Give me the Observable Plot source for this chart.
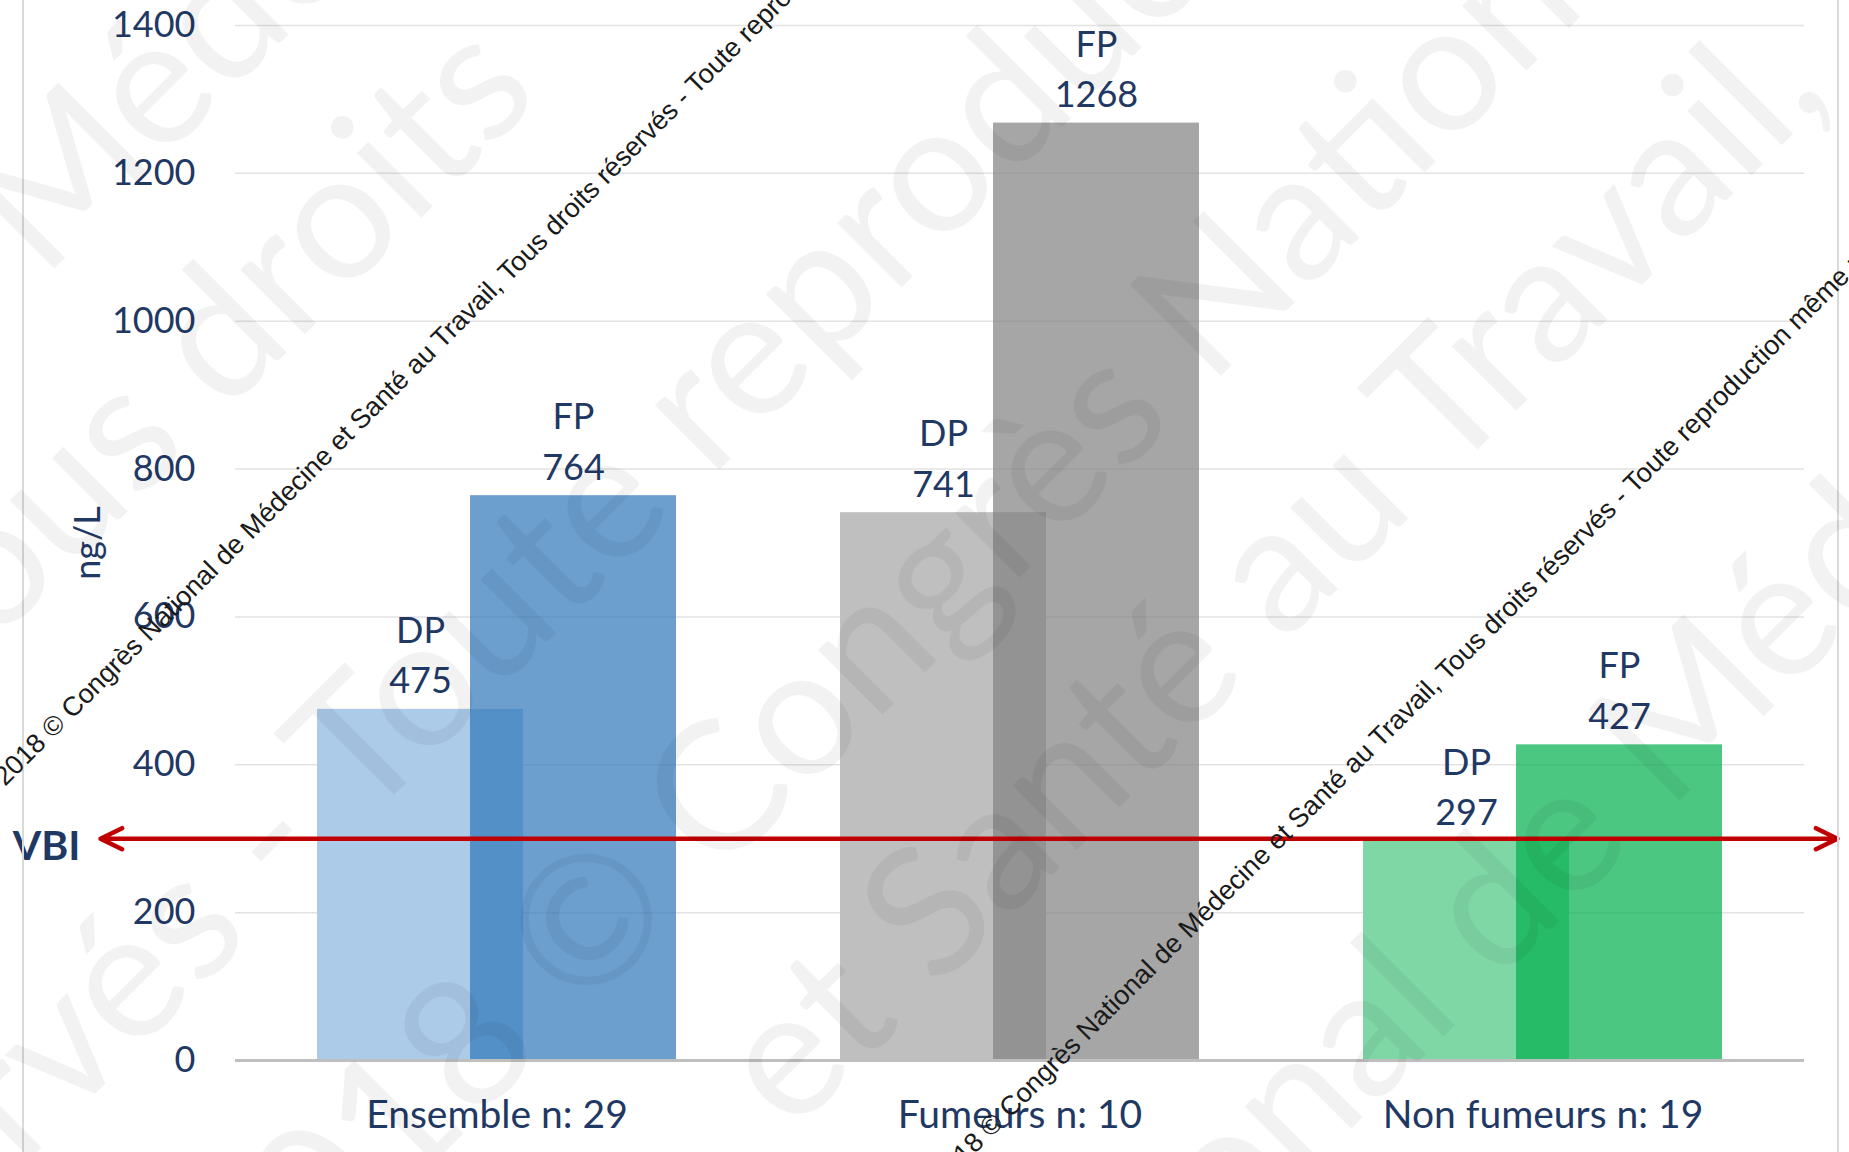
<!DOCTYPE html>
<html>
<head>
<meta charset="utf-8">
<script src="https://cdn.jsdelivr.net/npm/d3@7"></script>
<script src="https://cdn.jsdelivr.net/npm/@observablehq/plot@0.6"></script>
<style>
  html, body { margin: 0; padding: 0; background: #ffffff; overflow: hidden; }
  #chart svg { display: block; }
</style>
</head>
<body>
<div id="chart"></div>
<script>
// ---------- data ----------
const categories = ["Ensemble n: 29", "Fumeurs n: 10", "Non fumeurs n: 19"];
const seriesNames = ["DP", "FP"];
const dpValues = [475, 741, 297];
const fpValues = [764, 1268, 427];
const dpColors = ["#abcbe9", "#bfbfbf", "#7fd7a6"];
const fpColors = ["#2e76b9", "#808080", "#00af4b"];
const yTicks = [0, 200, 400, 600, 800, 1000, 1200, 1400];
const vbiValue = 300;
const vbiLabel = "VBI";
const yLabel = "ng/L";
const watermarkText = "2018 © Congrès National de Médecine et Santé au Travail, Tous droits réservés - Toute reproduction même partielle interdite";
const watermarkWords = ["Médecine", "Tous droits", "réservés - Toute reproduction", "2018 © Congrès National", "et Santé au Travail,", "National de Médecine"];

// ---------- tables ----------
const dpRows = categories.map((c, i) => ({category: c, series: seriesNames[0], value: dpValues[i], color: dpColors[i]}));
const fpRows = categories.map((c, i) => ({category: c, series: seriesNames[1], value: fpValues[i], color: fpColors[i]}));
const vbiRows = [
  {from: categories[1], to: categories[0], value: vbiValue},
  {from: categories[1], to: categories[2], value: vbiValue}
];

// ---------- layout ----------
const W = 1849, H = 1152;
const mL = 235, mR = 45, mT = 25, mB = 92;
const navy = "#1f3864";
const font = "Lato, 'Open Sans', sans-serif";

const plot = Plot.plot({
  width: W,
  height: H,
  marginLeft: mL,
  marginRight: mR,
  marginTop: mT,
  marginBottom: mB,
  style: {fontFamily: font, fontSize: "36px", color: navy, background: "#ffffff", overflow: "visible"},
  x: {type: "band", domain: categories, padding: 0, tickSize: 0, tickPadding: 40, label: null},
  y: {domain: [0, 1400], ticks: yTicks, tickSize: 0, tickPadding: 40, tickFormat: d3.format("d"), label: null},
  marks: [
    Plot.ruleY(yTicks.filter(v => v > 0), {stroke: "#e3e3e3", strokeWidth: 1.5}),
    Plot.barY(dpRows, {x: "category", y: "value", fill: "color", insetLeft: 82, insetRight: 235}),
    Plot.barY(fpRows, {x: "category", y: "value", fill: "color", fillOpacity: 0.7, insetLeft: 235, insetRight: 82}),
    Plot.ruleY([0], {stroke: "#bfbfbf", strokeWidth: 3}),
    Plot.text(dpRows, {x: "category", y: "value", text: d => `${d.series}\n${d.value}`, dx: -76.5, dy: -16,
      lineAnchor: "bottom", lineHeight: 1.4, fill: navy, fontSize: 36}),
    Plot.text(fpRows, {x: "category", y: "value", text: d => `${d.series}\n${d.value}`, dx: 76.5, dy: -16,
      lineAnchor: "bottom", lineHeight: 1.4, fill: navy, fontSize: 36}),
    Plot.arrow(vbiRows.slice(0, 1), {x1: "from", x2: "to", y1: "value", y2: "value", stroke: "#c00000",
      strokeWidth: 4.5, headLength: 8, headAngle: 52, insetEnd: -396.5}),
    Plot.arrow(vbiRows.slice(1), {x1: "from", x2: "to", y1: "value", y2: "value", stroke: "#c00000",
      strokeWidth: 4.5, headLength: 8, headAngle: 52, insetEnd: -294.5}),
    Plot.text([vbiValue], {y: d => d, text: () => vbiLabel, frameAnchor: "left", dx: -189, dy: 8,
      textAnchor: "middle", fontWeight: "bold", fontSize: 41, fill: navy}),
    Plot.text([yLabel], {text: d => d, frameAnchor: "left", dx: -147, rotate: -90, textAnchor: "middle",
      fontSize: 36, fill: navy})
  ]
});

document.getElementById("chart").appendChild(plot);

const svg = d3.select(plot);
// category labels are drawn a little larger than the value ticks
svg.selectAll('[aria-label^="x-axis"] text').attr("font-size", 39).style("font-size", "39px");

// ---------- slide decorations (frame + watermark) ----------
const deco = svg.append("g").attr("pointer-events", "none");
[23, 1838].forEach(x => {
  deco.append("line").attr("x1", x).attr("x2", x).attr("y1", 0).attr("y2", H)
    .attr("stroke", "#d9d9d9").attr("stroke-width", 2);
});

const bigPos = [[269, -45], [189, 351], [561, 529], [917, 581], [1262, 566], [1556, 825]];
watermarkWords.forEach((w, i) => {
  deco.append("text")
    .attr("transform", `translate(${bigPos[i][0]},${bigPos[i][1]}) rotate(-45)`)
    .attr("text-anchor", "middle")
    .attr("dominant-baseline", "central")
    .attr("font-family", font)
    .attr("font-size", 180)
    .attr("fill", "#000")
    .attr("fill-opacity", 0.05)
    .text(w);
});

[[5, 787], [943, 1186]].forEach(([x, y]) => {
  deco.append("text")
    .attr("transform", `translate(${x},${y}) rotate(-45)`)
    .attr("text-anchor", "start")
    .attr("font-family", "'Liberation Sans', Arial, sans-serif")
    .attr("font-size", 27)
    .attr("fill", "#1a1a1a")
    .text(watermarkText);
});
</script>
</body>
</html>
